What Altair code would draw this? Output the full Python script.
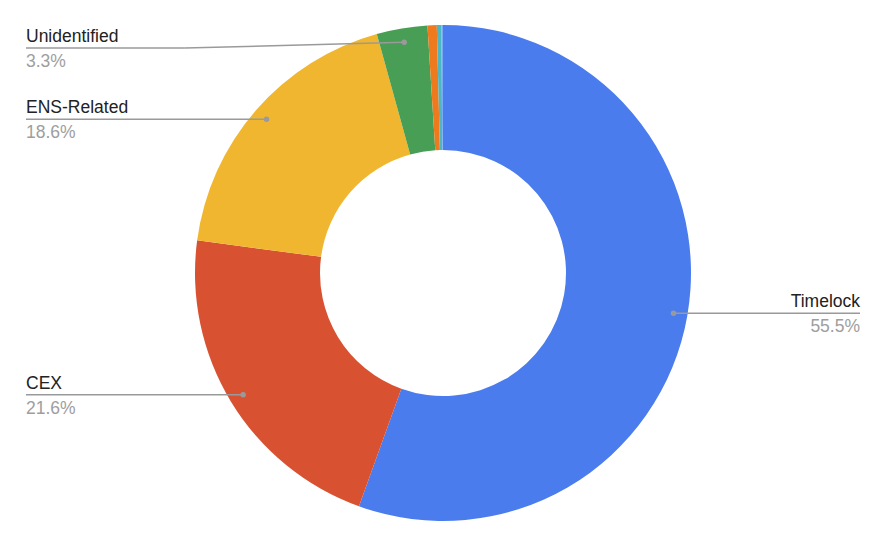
import altair as alt
import numpy as np
import pandas as pd

# ---- data ----
labels = ["Timelock", "CEX", "ENS-Related", "Unidentified", "Other 1", "Other 2", "Other 3"]
values = [55.5, 21.6, 18.6, 3.3, 0.6, 0.3, 0.1]
colors = ["#4a7cee", "#d85232", "#f1b62f", "#489e55", "#ef7a1d", "#4bb7c2", "#7ba8f4"]

# ---- layout constants ----
W, H = 871, 531
CX, CY = 435, 265
R_OUT, R_IN, R_DOT = 248, 123, 234
LEFT_X, RIGHT_X = 18, 852
TOP_MIN = 40
FS = 17.5

df = pd.DataFrame({"label": labels, "value": values, "order": range(len(labels))})
df["pct"] = df["value"] / df["value"].sum()
df["pct_text"] = (df["value"]).map(lambda v: f"{v:.1f}%")

# label geometry derived from the data
cum = df["pct"].cumsum() - df["pct"] / 2
ang = cum * 2 * np.pi
df["dot_x"] = CX + R_DOT * np.sin(ang)
df["dot_y"] = CY - R_DOT * np.cos(ang)
df["side"] = np.where(np.sin(ang) < 0, "left", "right")
df["label_y"] = np.maximum(df["dot_y"], TOP_MIN)
df["end_x"] = np.where(df["side"] == "left", LEFT_X, RIGHT_X)
df["elbow_x"] = np.where(
    np.abs(df["label_y"] - df["dot_y"]) > 0.5,
    df["end_x"] + 0.42 * (df["dot_x"] - df["end_x"]),
    df["dot_x"],
)
df["name_y"] = df["label_y"] - 6
df["pct_y"] = df["label_y"] + 19

lab = df[df["value"] >= 1].copy()
left = lab[lab["side"] == "left"]
right = lab[lab["side"] == "right"]

base = alt.Chart(df)

arc = base.mark_arc(outerRadius=R_OUT, innerRadius=R_IN).encode(
    theta=alt.Theta("value:Q", stack=True),
    order=alt.Order("order:Q"),
    color=alt.Color("label:N", scale=alt.Scale(domain=labels, range=colors), legend=None),
    x=alt.value(CX),
    y=alt.value(CY),
)

lb = alt.Chart(lab)
rule1 = lb.mark_rule(color="#9a9a9a", strokeWidth=1.5).encode(
    x=alt.X("dot_x:Q", scale=None), y=alt.Y("dot_y:Q", scale=None),
    x2="elbow_x:Q", y2="label_y:Q",
)
rule2 = lb.mark_rule(color="#9a9a9a", strokeWidth=1.5).encode(
    x=alt.X("elbow_x:Q", scale=None), y=alt.Y("label_y:Q", scale=None),
    x2="end_x:Q", y2="label_y:Q",
)
dots = lb.mark_circle(color="#9a9a9a", opacity=1, size=30).encode(
    x=alt.X("dot_x:Q", scale=None), y=alt.Y("dot_y:Q", scale=None),
)

def texts(d, align):
    c = alt.Chart(d)
    name = c.mark_text(align=align, baseline="alphabetic", font="Liberation Sans",
                       fontSize=FS, color="#222222").encode(
        x=alt.X("end_x:Q", scale=None), y=alt.Y("name_y:Q", scale=None), text="label:N")
    pct = c.mark_text(align=align, baseline="alphabetic", font="Liberation Sans",
                      fontSize=FS, color="#9e9e9e").encode(
        x=alt.X("end_x:Q", scale=None), y=alt.Y("pct_y:Q", scale=None), text="pct_text:N")
    return name + pct

chart = alt.layer(arc, rule1, rule2, dots, texts(left, "left"), texts(right, "right")).properties(
    width=W, height=H, padding=0, autosize=alt.AutoSizeParams(type="none")
).configure_view(stroke=None)

chart.save("out.html", embed_options={"renderer": "svg", "actions": False})
